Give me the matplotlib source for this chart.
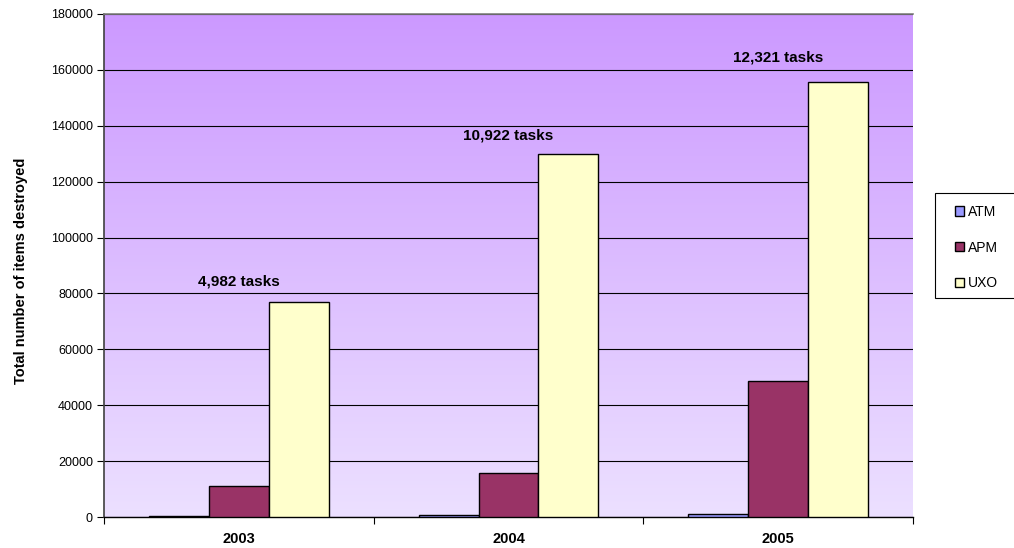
import matplotlib
matplotlib.use("Agg")
import matplotlib.pyplot as plt
import matplotlib.patches as mpatches
import numpy as np

plt.rcParams['font.family'] = ['Liberation Sans', 'DejaVu Sans']

years = ['2003', '2004', '2005']
series_names = ['ATM', 'APM', 'UXO']
atm = [300, 800, 900]
apm = [11000, 15600, 48800]
uxo = [76900, 130000, 155600]
task_labels = ['4,982 tasks', '10,922 tasks', '12,321 tasks']
task_label_y = [84300, 136400, 164600]
colors = ['#9999FF', '#993366', '#FFFFCC']

W, H = 1014, 548
fig = plt.figure(figsize=(W/100, H/100), dpi=100)
ax = fig.add_axes([104/W, 31/H, 809/W, 503/H])

x = np.arange(len(years))
w = 1/4.5
for i, (vals, c, name) in enumerate(zip([atm, apm, uxo], colors, series_names)):
    ax.bar(x + (i-1)*w, vals, w, color=c, edgecolor='black', linewidth=1, label=name, zorder=3)

ax.set_xlim(-0.5, 2.5)
ax.set_ylim(0, 180000)

# gradient background
grad = np.linspace(0, 1, 256).reshape(-1, 1)
top = np.array([204, 153, 255]) / 255
bot = np.array([236, 224, 255]) / 255
img = (bot + (top - bot) * grad).reshape(256, 1, 3)
ax.imshow(img, extent=[-0.5, 2.5, 0, 180000], origin='lower', aspect='auto', zorder=0)

ax.set_yticks(np.arange(0, 180001, 20000))
ax.yaxis.grid(True, color='black', linewidth=0.8, zorder=1)
ax.tick_params(axis='y', labelsize=9, length=5, pad=3, direction='out', width=0.8)
ax.set_xticks(x)
ax.set_xticklabels(years, fontweight='bold', fontsize=10.5)
ax.set_xticks([-0.5, 0.5, 1.5, 2.5], minor=True)
ax.tick_params(axis='x', which='major', length=0, pad=11)
ax.tick_params(axis='x', which='minor', length=5, width=0.8)

for s in ['top', 'right']:
    ax.spines[s].set_visible(False)
ax.plot([-0.5, 2.5], [180000, 180000], color='#808080', linewidth=1.2, zorder=4, clip_on=False)
ax.spines['left'].set_linewidth(1.2)
ax.spines['left'].set_color('#404040')
ax.spines['bottom'].set_linewidth(1)

ax.set_ylabel('Total number of items destroyed', fontweight='bold', fontsize=10.5)
ax.yaxis.set_label_coords((28 - 104) / 809, 0.49)

for xi, lab, yy in zip(x, task_labels, task_label_y):
    ax.text(xi, yy, lab, ha='center', va='center', fontweight='bold', fontsize=11, zorder=5)

# legend frame drawn separately
fig.patches.append(mpatches.Rectangle((935/W, 1-298/H), 90/W, 105/H, transform=fig.transFigure,
                                      facecolor='white', edgecolor='black', linewidth=0.8,
                                      figure=fig, zorder=1))
leg = fig.legend(loc='upper left', bbox_to_anchor=(955/W, 1-205/H), frameon=False,
                 fontsize=10, handlelength=0.65, handleheight=0.65, handletextpad=0.3,
                 labelspacing=1.55, borderpad=0, borderaxespad=0)
leg.set_zorder(2)

fig.savefig('out.png', dpi=100)
